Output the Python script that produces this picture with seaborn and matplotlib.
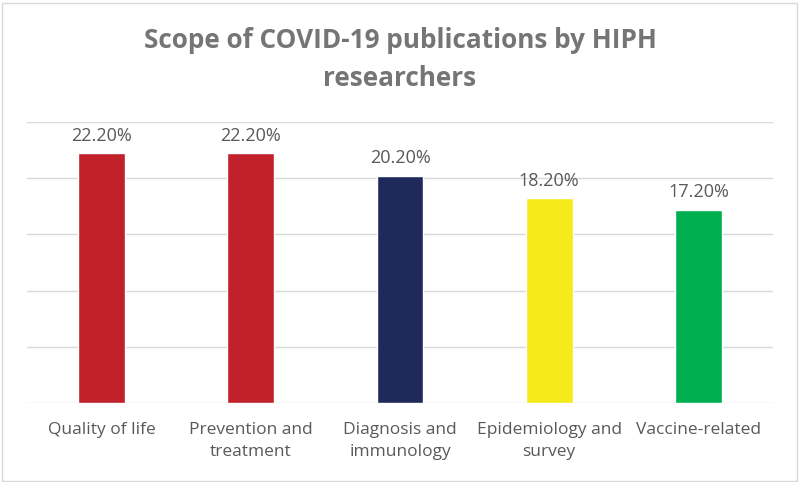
import matplotlib
matplotlib.use('Agg')
import matplotlib.pyplot as plt
import seaborn as sns
from matplotlib.patches import Rectangle

# data
categories = ['Quality of life', 'Prevention and treatment', 'Diagnosis and immunology',
              'Epidemiology and survey', 'Vaccine-related']
tick_labels = ['Quality of life', 'Prevention and\ntreatment', 'Diagnosis and\nimmunology',
               'Epidemiology and\nsurvey', 'Vaccine-related']
shares = [22.2, 22.2, 20.2, 18.2, 17.2]
bar_colors = ['#C0212A', '#C0212A', '#1F2A5B', '#F5EA1A', '#00B050']
title_lines = ['Scope of COVID-19 publications by HIPH', 'researchers']

sns.set_style('white')
plt.rcParams['font.family'] = ['Open Sans', 'DejaVu Sans']

fig = plt.figure(figsize=(8, 4.82), dpi=100)
ax = fig.add_axes([0.03375, 0.1639, 0.9325, 0.583])

sns.barplot(x=categories, y=shares, hue=categories, palette=bar_colors,
            width=0.315, legend=False, saturation=1, ax=ax)

ax.set_ylim(0, 25)
ax.set_xlim(-0.5, len(categories) - 0.5)
ax.set_yticks([0, 5, 10, 15, 20, 25])
ax.yaxis.grid(True, color='#D9D9D9', linewidth=1)
ax.set_axisbelow(True)
ax.tick_params(axis='y', left=False, labelleft=False)
ax.tick_params(axis='x', bottom=False, pad=10)
for s in ax.spines.values():
    s.set_visible(False)
ax.set_xticks(range(len(categories)))
ax.set_xticklabels(tick_labels, fontsize=12.5, color='#595959', linespacing=1.5)
ax.set_xlabel('')
ax.set_ylabel('')

# value labels above the bars
for i, v in enumerate(shares):
    ax.text(i, v + 1.15, f'{v:.2f}%', ha='center', va='baseline', fontsize=13, color='#595959')

# title, two lines
fig.text(0.5, 0.9, title_lines[0], ha='center', va='baseline',
         fontsize=18.8, fontweight='bold', color='#757575')
fig.text(0.5, 0.8216, title_lines[1], ha='center', va='baseline',
         fontsize=18.8, fontweight='bold', color='#757575')

# light chart border
fig.patches.append(Rectangle((0.003, 0.002), 0.993, 0.992, transform=fig.transFigure,
                             fill=False, edgecolor='#D9D9D9', linewidth=1))

fig.savefig('out.png', dpi=100)
